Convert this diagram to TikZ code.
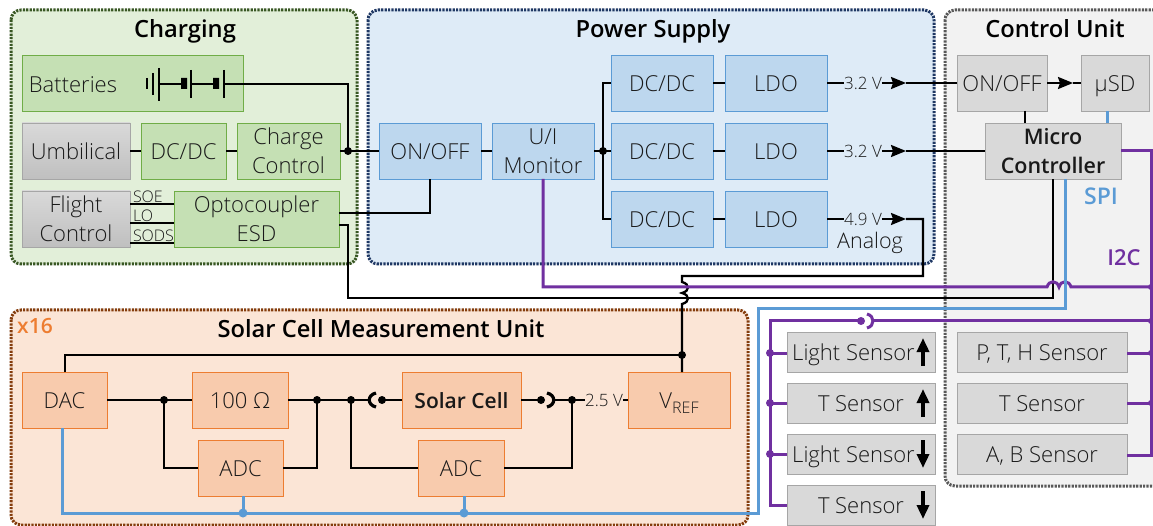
\documentclass[tikz,border=0pt]{standalone}
\usepackage{fontspec}
\setmainfont{Open Sans}[UprightFont={* Light},BoldFont={* Semibold}]
\usetikzlibrary{arrows.meta,calc}
\definecolor{gfill}{HTML}{E2EFD9}\definecolor{gedge}{HTML}{385723}
\definecolor{gbox}{HTML}{C5E0B4}\definecolor{gline}{HTML}{70AD47}
\definecolor{bfill}{HTML}{DEEBF7}\definecolor{bedge}{HTML}{1F3864}
\definecolor{bbox}{HTML}{BDD7EE}\definecolor{bline}{HTML}{5B9BD5}
\definecolor{kfill}{HTML}{F2F2F2}\definecolor{kedge}{HTML}{595959}
\definecolor{kbox}{HTML}{D9D9D9}\definecolor{kline}{HTML}{A6A6A6}
\definecolor{ofill}{HTML}{FBE5D6}\definecolor{oedge}{HTML}{843C0C}
\definecolor{obox}{HTML}{F8CBAD}\definecolor{oline}{HTML}{ED7D31}
\definecolor{purp}{HTML}{7030A0}
\newcommand\su{\rule{0pt}{22pt}}
\newcommand\sd{\rule[-4.5pt]{0pt}{0pt}}
\newcommand\se{\rule[-5pt]{0pt}{0pt}}
\newcommand\bx[7]{%
  \pgfmathsetmacro\bxw{#4-#2}\pgfmathsetmacro\bxh{#5-#3}%
  \pgfmathsetmacro\bxx{(#4+#2)/2}\pgfmathsetmacro\bxy{(#5+#3)/2}%
  \node[#1,minimum width=\bxw pt,minimum height=\bxh pt] (#6) at (\bxx,\bxy) {#7};}
\tikzset{
  every node/.style={inner sep=0pt,outer sep=0pt,align=center,text=black!90,font=\fontsize{22}{29}\selectfont},
  group/.style={line width=3pt,dash pattern=on 2.2pt off 1.2pt,rounded corners=10pt},
  gbx/.style={draw=gline,fill=gbox,line width=0.8pt},
  bbx/.style={draw=bline,fill=bbox,line width=0.8pt},
  kbx/.style={draw=kline,fill=kbox,line width=0.8pt},
  shd/.style={draw=kline,line width=0.8pt,top color=kbox,bottom color=black!25},
  obx/.style={draw=oline,fill=obox,line width=0.8pt},
  title/.style={font=\fontsize{23.7}{28}\selectfont\bfseries,text=black},
  wire/.style={draw=black,line width=2.3pt},
  thick wire/.style={draw=black,line width=2.8pt},
  pw/.style={draw=purp,line width=3pt},
  sw/.style={draw=bline,line width=3pt},
  small/.style={font=\fontsize{16}{16}\selectfont},
  volt/.style={font=\fontsize{17}{17}\selectfont},
  tagged/.style={-{Stealth[length=15pt,width=12pt,inset=2pt]}},
  updown/.style={draw=black,line width=3.4pt,-{Triangle[length=14pt,width=12pt]}},
  jdot/.style={circle,fill=black,minimum size=8pt},
  pdot/.style={circle,fill=purp,minimum size=8pt},
  sdot/.style={circle,fill=bline,minimum size=9pt},
}
\begin{document}
\begin{tikzpicture}[x=1pt,y=-1pt]
\useasboundingbox (0,0) rectangle (1153,526);
\clip (0,0) rectangle (1153,526);
\fill[white] (0,0) rectangle (1153,526);
% groups
\draw[group,draw=gedge,fill=gfill] (11,10) rectangle (357,264);
\draw[group,draw=bedge,fill=bfill] (368,10) rectangle (934,264);
\draw[group,draw=kedge,fill=kfill] (945,10) rectangle (1170,486);
\draw[group,draw=oedge,fill=ofill] (11,310) rectangle (748,525);
\node[title] (tc) at (185,31) {Charging};
\node[title] (tp) at (653,31) {Power Supply};
\node[title] (tu) at (1055,29) {Control Unit};
\node[title] (ts) at (381,329) {Solar Cell Measurement Unit};
\node[font=\fontsize{21}{22}\selectfont\bfseries,text=oline] (x16) at (35,326) {x16};
\node[font=\fontsize{23}{24}\selectfont\bfseries,text=bline] (spi) at (1101,196) {SPI};
\node[font=\fontsize{22}{24}\selectfont\bfseries,text=purp] (i2c) at (1124,258) {I2C};
% boxes
\bx{gbx}{22}{55}{243}{111}{bat}{}
\node (batt) at (73,85) {Batteries};
\bx{shd}{22}{123}{130}{179}{umb}{\su Umbilical\sd}
\bx{gbx}{141}{123}{226}{179}{dc0}{\su DC/DC\sd}
\bx{gbx}{237}{123}{340}{179}{cc}{\su Charge\\Control\se}
\bx{shd}{22}{191}{130}{247}{fc}{\su Flight\\Control\se}
\bx{gbx}{174}{191}{339}{247}{opto}{\su Optocoupler\\ESD\se}
\bx{bbx}{379}{123}{481}{179}{on1}{\su ON/OFF\sd}
\bx{bbx}{492}{123}{594}{179}{mon}{\su U/I\\Monitor\se}
\bx{bbx}{611}{55}{713}{111}{dc1}{\su DC/DC\sd}
\bx{bbx}{611}{123}{713}{179}{dc2}{\su DC/DC\sd}
\bx{bbx}{611}{191}{713}{247}{dc3}{\su DC/DC\sd}
\bx{bbx}{725}{55}{827}{111}{ldo1}{\su LDO\sd}
\bx{bbx}{725}{123}{827}{179}{ldo2}{\su LDO\sd}
\bx{bbx}{725}{191}{827}{247}{ldo3}{\su LDO\sd}
\bx{kbx}{957}{55}{1047}{111}{on2}{\su ON/OFF\sd}
\bx{kbx}{1081}{55}{1149}{111}{sd}{\su µSD\sd}
\bx{kbx,font=\fontsize{21.5}{29}\selectfont\bfseries}{985}{123}{1121}{179}{mc}{\su Micro\\Controller\se}
\bx{kbx}{957}{332}{1127}{372}{r1}{\su P, T, H Sensor\sd}
\bx{kbx}{957}{383}{1127}{423}{r2}{\su T Sensor\sd}
\bx{kbx}{957}{434}{1127}{474}{r3}{\su A, B Sensor\sd}
\bx{kbx}{787}{332}{935}{372}{l1}{\su Light Sensor\hspace*{15pt}\sd}
\bx{kbx}{787}{383}{935}{423}{l2}{\su T Sensor\sd}
\bx{kbx}{787}{434}{935}{474}{l3}{\su Light Sensor\hspace*{15pt}\sd}
\bx{kbx}{787}{485}{935}{525}{l4}{\su T Sensor\sd}
\bx{obx}{22}{372}{107}{428}{dac}{\su DAC\sd}
\bx{obx}{192}{372}{288}{428}{res}{\su 100 Ω\sd}
\bx{obx}{198}{440}{283}{496}{adc1}{\su ADC\sd}
\bx{obx,font=\fontsize{21}{29}\selectfont\bfseries}{402}{372}{521}{428}{cell}{\su Solar Cell\sd}
\bx{obx}{418}{440}{504}{496}{adc2}{\su ADC\sd}
\bx{obx}{628}{372}{730}{428}{vref}{\su V\raisebox{-5pt}{\fontsize{16}{16}\selectfont REF}\sd}
% sensor arrows
\draw[updown] (923,366) -- (923,338);
\draw[updown] (923,417) -- (923,389);
\draw[updown] (923,440) -- (923,468);
\draw[updown] (923,491) -- (923,519);
% battery symbol
\draw[line width=1.6pt] (147,78) -- (147,89) (153,73) -- (153,95);
\draw[line width=2pt] (159,68) -- (159,101) (191,70) -- (191,98) (224,70) -- (224,98);
\draw[line width=2pt] (159,84) -- (181,84) (191,84) -- (213,84);
\fill (181,78) rectangle (187,89) (213,78) rectangle (219,89);
\coordinate (batout) at (224,84);
% charging connectors
\coordinate (j1) at (348,151);
\draw[wire] (batout) -- (348,84) -- (j1);
\node[jdot] at (j1) {};
\draw[thick wire] (umb) -- (dc0);
\draw[thick wire] (dc0) -- (cc);
\draw[thick wire] (cc) -- (on1);
\draw[thick wire] (on1) -- (mon);
\draw[wire] (opto.east|-0,213) -- (on1.south|-0,213) -- (on1.south);
\foreach \yy/\tt in {204/SOE,223/LO,243/SODS}{
  \draw[wire] (130,\yy) -- (174,\yy);
  \node[small,anchor=south west] at (133,\yy-1) {\tt};
}
% power connectors
\coordinate (j2) at (603,151);
\draw[thick wire] (mon) -- (j2);
\node[jdot] at (j2) {};
\draw[wire] (dc1.west) -- (603,83) -- (603,219) -- (dc3.west);
\draw[thick wire] (j2) -- (dc2);
\draw[thick wire] (dc1) -- (ldo1);
\draw[thick wire] (dc2) -- (ldo2);
\draw[thick wire] (dc3) -- (ldo3);
\node[volt] (v1) at (863,83) {3.2 V};
\node[volt] (v2) at (863,151) {3.2 V};
\node[volt] (v3) at (863,219) {4.9 V};
\node[font=\fontsize{21.5}{24}\selectfont] (ana) at (870,243) {Analog};
\coordinate (t1) at (906,83);
\coordinate (t2) at (906,151);
\coordinate (t3) at (906,219);
\draw[wire] (ldo1) -- (v1);
\draw[wire] (ldo2) -- (v2);
\draw[wire] (ldo3) -- (v3);
\draw[wire,tagged] (v1) -- (t1);
\draw[wire,tagged] (v2) -- (t2);
\draw[wire,tagged] (v3) -- (t3);
\draw[wire] (t1) -- (on2);
\draw[wire] (t2) -- (mc);
\coordinate (t4) at (1073,83);
\draw[wire,tagged] (on2) -- (t4);
\draw[wire] (t4) -- (sd);
\draw[wire] (on2.south -| 1025,0) -- (mc.north -| 1025,0);
\draw[sw] (sd.south -| 1107,0) -- (mc.north -| 1107,0);
% long black runs
\draw[wire] (opto.east|-0,225) -- (348,225) -- (348,298) -- (1053,298) -- (mc.south -| 1053,0);
\draw[wire] (t3) -- (923,219) -- (923,276) -- (682,276) -- (682,282)
  .. controls (690,284) and (690,291) .. (682,293)
  .. controls (690,295) and (690,302) .. (682,304) -- (vref.north -| 682,0);
\coordinate (j3) at (682,355);
\draw[wire] (dac.north -| 65,0) -- (65,355) -- (j3);
\node[jdot] at (j3) {};
% purple
\draw[pw] (mon.south -| 543,0) -- (543,287) -- (1047,287)
  .. controls (1049,280) and (1057,280) .. (1059,287)
  .. controls (1061,280) and (1069,280) .. (1071,287) -- (1151,287);
\draw[pw] (mc.east) -- (1151,151) -- (1151,455) -- (r3.east|-0,455);
\draw[pw] (r1.east|-0,353) -- (1151,353);
\draw[pw] (r2.east|-0,403) -- (1151,403);
\coordinate (p1) at (1151,287);\coordinate (p2) at (1151,321);
\coordinate (p3) at (1151,353);\coordinate (p4) at (1151,403);
\foreach \c in {p1,p2,p3,p4}{\node[pdot,minimum size=6pt] at (\c) {};}
\coordinate (p5) at (861,321);
\draw[pw] (p2) -- (872,321);
\draw[pw] (867,314) .. controls (875,316) and (875,326) .. (867,328);
\node[pdot] at (p5) {};
\draw[pw] (p5) -- (770,321) -- (770,505) -- (l4.west);
\draw[pw] (770,353) -- (l1.west|-0,353);
\draw[pw] (770,403) -- (l2.west);
\draw[pw] (770,454) -- (l3.west);
\foreach \yy in {353,403,454}{\node[pdot] at (770,\yy) {};}
% blue SPI
\draw[sw] (mc.south -| 1065,0) -- (1065,309) -- (758,309) -- (758,513) -- (62,513) -- (dac.south -| 62,0);
\draw[sw] (adc1.south -| 243,0) -- (243,513);
\draw[sw] (adc2.south -| 464,0) -- (464,513);
\node[sdot] at (243,513) {};
\node[sdot] at (464,513) {};
% solar connectors
\coordinate (a1) at (164,400);\coordinate (a2) at (317,400);\coordinate (a3) at (351,400);
\coordinate (a4) at (382,400);\coordinate (a5) at (541,400);\coordinate (a6) at (572,400);
\draw[thick wire] (dac) -- (res);
\draw[thick wire] (res) -- (371,400);
\draw[thick wire] (a4) -- (cell);
\draw[thick wire] (cell) -- (a5);
\draw[thick wire] (553,400) -- (a6);
\node[volt] (v25) at (604,400) {2.5 V};
\draw[thick wire] (a6) -- (v25);
\draw[thick wire] (v25) -- (vref);
\draw[line width=3.2pt] (376,393) .. controls (367,395) and (367,405) .. (376,407);
\draw[line width=3.2pt] (547,393) .. controls (556,395) and (556,405) .. (547,407);
\draw[wire] (a1) -- (164,468) -- (adc1.west);
\draw[wire] (a2) -- (317,468) -- (adc1.east);
\draw[wire] (a3) -- (351,468) -- (adc2.west);
\draw[wire] (a6) -- (572,468) -- (adc2.east);
\foreach \c in {a1,a2,a3,a4,a5,a6}{\node[jdot] at (\c) {};}
\end{tikzpicture}
\end{document}
